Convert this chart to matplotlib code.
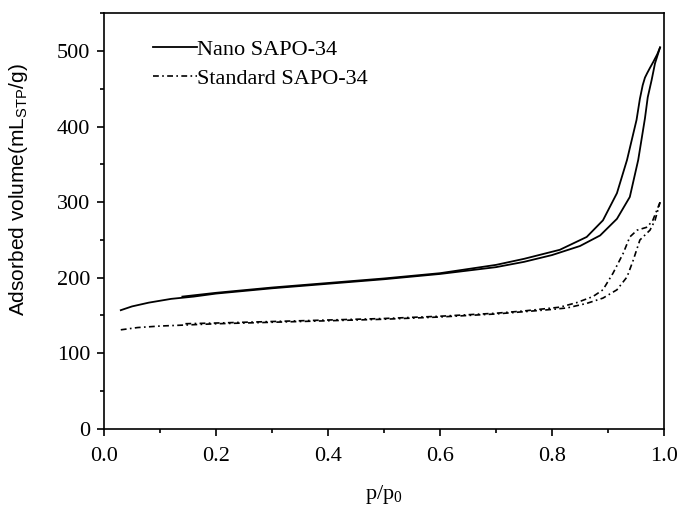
import numpy as np
import matplotlib.pyplot as plt
from matplotlib.ticker import MultipleLocator

plt.rcParams['font.family'] = 'Liberation Serif'
plt.rcParams['mathtext.fontset'] = 'custom'
plt.rcParams['mathtext.rm'] = 'Liberation Serif'
plt.rcParams['mathtext.sf'] = 'Liberation Sans'

# Nano SAPO-34 isotherm
nano_ads_x = [0.03, 0.05, 0.08, 0.12, 0.16, 0.2, 0.3, 0.4, 0.5, 0.6, 0.7, 0.75, 0.8,
              0.85, 0.886, 0.916, 0.939, 0.954, 0.966, 0.971, 0.978, 0.984, 0.993]
nano_ads_y = [157, 162, 167, 172, 175, 179, 186, 192, 198, 205, 214, 221, 230,
              242, 256, 278, 307, 356, 411, 439, 462, 484, 505]
nano_des_x = [0.993, 0.988, 0.981, 0.975, 0.970, 0.966, 0.962, 0.957, 0.951, 0.934,
              0.916, 0.891, 0.862, 0.814, 0.75, 0.7, 0.6, 0.5, 0.4, 0.3, 0.2, 0.14]
nano_des_y = [505, 496, 486, 478, 471, 465, 455, 437, 409, 356,
              312, 276, 254, 237, 225, 217, 206, 199, 193, 187, 180, 175]

# Standard SAPO-34 isotherm
std_ads_x = [0.03, 0.06, 0.1, 0.2, 0.3, 0.4, 0.5, 0.6, 0.7, 0.8, 0.827, 0.862,
             0.891, 0.916, 0.934, 0.945, 0.957, 0.975, 0.984, 0.993]
std_ads_y = [131, 134, 136, 139, 141, 143, 145, 148, 152, 158, 160, 166,
             173, 184, 201, 223, 250, 263, 276, 300]
std_des_x = [0.993, 0.98, 0.97, 0.952, 0.939, 0.927, 0.909, 0.891, 0.873, 0.844,
             0.814, 0.75, 0.7, 0.6, 0.5, 0.4, 0.3, 0.2, 0.14]
std_des_y = [300, 276, 267, 263, 254, 232, 206, 184, 175, 167,
             161, 156, 153, 149, 146, 144, 142, 140, 139]

fig = plt.figure(figsize=(6.81, 5.07), dpi=100)
ax = fig.add_axes([0.1527, 0.1544, 0.8223, 0.819])

dashdot = (0, (3.5, 2, 1, 2))
ax.plot(nano_ads_x, nano_ads_y, color='black', lw=1.3, label='Nano SAPO-34')
ax.plot(nano_des_x, nano_des_y, color='black', lw=1.3)
ax.plot(std_ads_x, std_ads_y, color='black', lw=1.2, linestyle=dashdot, label='Standard SAPO-34')
ax.plot(std_des_x, std_des_y, color='black', lw=1.2, linestyle=dashdot)

ax.set_xlim(0, 1.0)
ax.set_ylim(0, 550)
ax.xaxis.set_minor_locator(MultipleLocator(0.1))
ax.yaxis.set_major_locator(MultipleLocator(100))
ax.yaxis.set_minor_locator(MultipleLocator(50))
ax.set_xticks(np.arange(0, 1.01, 0.2))
ax.set_xticklabels(['0.0', '0.2', '0.4', '0.6', '0.8', '1.0'])
ax.tick_params(which='both', direction='out', width=1.2, labelsize=16, top=False, right=False)
ax.tick_params(axis='y', pad=5)
ax.tick_params(axis='x', pad=8)
ax.tick_params(which='major', length=5)
ax.tick_params(which='minor', length=3)
for s in ax.spines.values():
    s.set_linewidth(1.2)

ax.set_xlabel(r'p/p$_{\mathrm{0}}$', fontsize=16)
ax.xaxis.set_label_coords(0.5, -0.13)
ax.set_ylabel(r'Adsorbed volume(mL$_{\mathsf{STP}}$/g)', family='Liberation Sans', fontsize=15)
ax.yaxis.set_label_coords(-0.132, 0.575)

ax.legend(loc='upper left', bbox_to_anchor=(0.0875, 0.938), frameon=False, fontsize=16,
          handlelength=1.98, handletextpad=0.0, labelspacing=0.39, borderpad=0, borderaxespad=0)

fig.savefig('out.png', dpi=100)
